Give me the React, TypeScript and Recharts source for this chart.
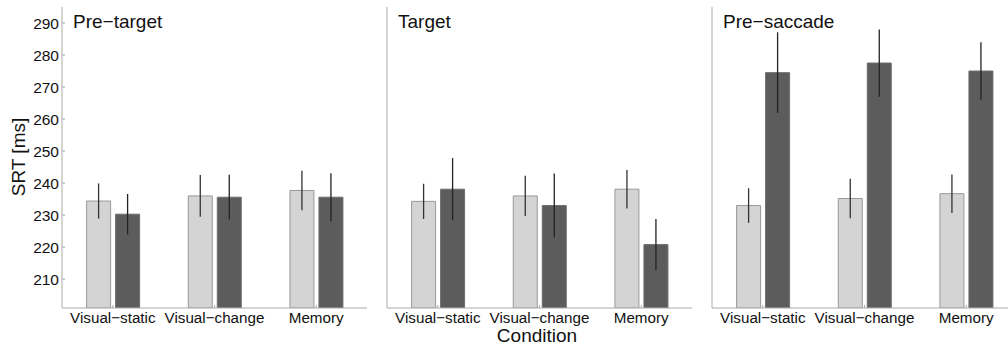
import React from "react";
import { BarChart, Bar, XAxis, YAxis, ErrorBar } from "recharts";

const categories = ["Visual−static", "Visual−change", "Memory"];
const panelTitles = ["Pre−target", "Target", "Pre−saccade"];
const yTicks = [210, 220, 230, 240, 250, 260, 270, 280, 290];

// light bars / dark bars, means and error half-widths per panel
const preTargetLight = [234.4, 236.0, 237.7];
const preTargetDark = [230.3, 235.6, 235.6];
const preTargetLightErr = [5.5, 6.5, 6.2];
const preTargetDarkErr = [6.3, 7.0, 7.5];

const targetLight = [234.3, 236.0, 238.1];
const targetDark = [238.1, 233.0, 220.8];
const targetLightErr = [5.5, 6.3, 6.0];
const targetDarkErr = [9.7, 10.0, 8.0];

const preSaccadeLight = [233.0, 235.2, 236.7];
const preSaccadeDark = [274.5, 277.5, 275.0];
const preSaccadeLightErr = [5.4, 6.2, 6.0];
const preSaccadeDarkErr = [12.6, 10.5, 9.0];

const buildRows = (light: number[], dark: number[], lightErr: number[], darkErr: number[]) =>
  categories.map((name, i) => ({
    name,
    light: light[i],
    dark: dark[i],
    lightErr: lightErr[i],
    darkErr: darkErr[i],
  }));

const panels = [
  buildRows(preTargetLight, preTargetDark, preTargetLightErr, preTargetDarkErr),
  buildRows(targetLight, targetDark, targetLightErr, targetDarkErr),
  buildRows(preSaccadeLight, preSaccadeDark, preSaccadeLightErr, preSaccadeDarkErr),
];

const font = "'Liberation Sans', Arial, sans-serif";
const axisColor = "#aaaaaa";
const plotLeft = [62, 387, 712];
const plotWidth = 305;

function Panel({ index }: { index: number }) {
  const showLabels = index === 0;
  const yWidth = showLabels ? 62 : 20;
  const left = plotLeft[index] - yWidth;
  return (
    <div style={{ position: "absolute", left, top: 0 }}>
      <BarChart
        width={yWidth + plotWidth}
        height={347}
        data={panels[index]}
        margin={{ top: 7, right: 0, bottom: 9, left: 0 }}
        barCategoryGap={24.6}
        barGap={5}
      >
        <XAxis
          dataKey="name"
          interval={0}
          height={30}
          stroke={axisColor}
          tickSize={-3}
          tickMargin={7}
          tick={{ fill: "#111", fontSize: 15.2, fontFamily: font }}
        />
        <YAxis
          width={yWidth}
          domain={[201, 295]}
          ticks={yTicks}
          allowDataOverflow
          stroke={axisColor}
          tickSize={-3}
          tickMargin={6}
          tick={showLabels ? { fill: "#111", fontSize: 15.5, fontFamily: font } : false}
        />
        <Bar dataKey="light" fill="#d4d4d4" stroke="#999999" strokeWidth={1} isAnimationActive={false}>
          <ErrorBar dataKey="lightErr" width={0} stroke="#333" strokeWidth={1.3} />
        </Bar>
        <Bar dataKey="dark" fill="#5c5c5c" stroke="#6e6e6e" strokeWidth={1} isAnimationActive={false}>
          <ErrorBar dataKey="darkErr" width={0} stroke="#222" strokeWidth={1.3} />
        </Bar>
      </BarChart>
      <div
        style={{
          position: "absolute",
          left: yWidth + 11,
          top: 11,
          fontFamily: font,
          fontSize: 19,
          color: "#111",
          lineHeight: "22px",
          whiteSpace: "nowrap",
        }}
      >
        {panelTitles[index]}
      </div>
    </div>
  );
}

export default function App() {
  return (
    <div
      style={{
        position: "absolute",
        left: 0,
        top: 0,
        width: 1008,
        height: 347,
        overflow: "hidden",
        background: "#fff",
      }}
    >
      {[0, 1, 2].map((i) => (
        <Panel key={i} index={i} />
      ))}
      <div
        style={{
          position: "absolute",
          left: 19,
          top: 157,
          transform: "translate(-50%, -50%) rotate(-90deg)",
          fontFamily: font,
          fontSize: 19,
          color: "#111",
          whiteSpace: "nowrap",
        }}
      >
        SRT [ms]
      </div>
      <div
        style={{
          position: "absolute",
          left: 537,
          top: 336,
          transform: "translate(-50%, -50%)",
          fontFamily: font,
          fontSize: 19,
          lineHeight: "18px",
          color: "#111",
          whiteSpace: "nowrap",
        }}
      >
        Condition
      </div>
    </div>
  );
}
